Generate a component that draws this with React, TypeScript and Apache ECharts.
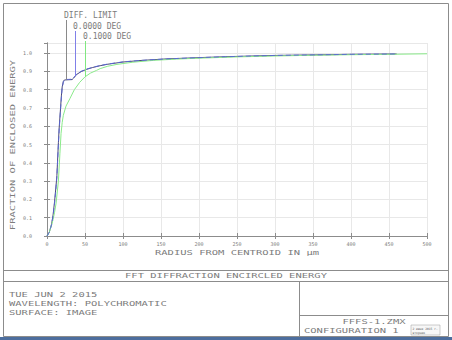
import React, { useEffect, useRef } from "react";
import * as echarts from "echarts";

// ---- data ----
const seriesNames = ["DIFF. LIMIT", "0.0000 DEG", "0.1000 DEG"];

const diffRadius = [0, 3, 6, 8, 10, 12, 13, 15, 16, 18, 19, 20, 21.5, 23, 28, 33, 35, 39, 45, 52, 60, 70, 80, 100, 125, 157, 200, 235, 262, 300, 367, 400, 460];
const diffLimit = [0, 0.02, 0.065, 0.115, 0.19, 0.28, 0.33, 0.51, 0.59, 0.71, 0.77, 0.815, 0.845, 0.853, 0.854, 0.855, 0.863, 0.883, 0.899, 0.911, 0.921, 0.931, 0.939, 0.951, 0.96, 0.968, 0.975, 0.98, 0.983, 0.987, 0.991, 0.993, 0.995];

const deg0Radius = [0, 3, 6, 8, 10, 12, 13, 15, 16, 18, 19, 20, 21.5, 23, 28, 33, 35, 39, 45, 52, 60, 70, 80, 100, 125, 157, 200, 235, 262, 300, 367, 400, 460];
const deg0 = [0, 0.02, 0.06, 0.11, 0.18, 0.27, 0.32, 0.5, 0.58, 0.7, 0.76, 0.81, 0.84, 0.855, 0.856, 0.857, 0.865, 0.885, 0.9, 0.912, 0.922, 0.932, 0.94, 0.952, 0.96, 0.968, 0.975, 0.98, 0.983, 0.987, 0.991, 0.993, 0.995];

const deg01Radius = [0, 3, 6, 8, 10, 12, 15, 17, 18.5, 20, 21.5, 25, 30, 36, 43, 50, 57, 65, 70, 80, 92, 113, 140, 170, 200, 250, 300, 350, 400, 450, 500];
const deg01 = [0, 0.02, 0.06, 0.09, 0.13, 0.18, 0.3, 0.45, 0.56, 0.62, 0.66, 0.71, 0.75, 0.8, 0.84, 0.87, 0.89, 0.905, 0.915, 0.928, 0.938, 0.95, 0.96, 0.967, 0.972, 0.979, 0.984, 0.988, 0.991, 0.993, 0.996];

// where each curve label's leader line meets its curve
const labelRadius = [25, 37, 50];
const labelValue = [0.854, 0.878, 0.87];

const xTickInterval = 50;
const yTickInterval = 0.1;

const titleText = "FFT DIFFRACTION ENCIRCLED ENERGY";
const infoLines = ["TUE JUN 2 2015", "WAVELENGTH: POLYCHROMATIC", "SURFACE: IMAGE"];
const fileLines = ["FFFS-1.ZMX", "CONFIGURATION 1"];
const xAxisTitle = "RADIUS FROM CENTROID IN \u00b5m";
const yAxisTitle = "FRACTION OF ENCLOSED ENERGY";

const FONT = "'DejaVu Sans Mono', monospace";
const TXT = "#7c7c7c";
const FRAME = "#8c8c8c";

const pairs = (xs: number[], ys: number[]) => xs.map((x, i) => [x, ys[i]]);

export default function App() {
  const ref = useRef<HTMLDivElement>(null);
  useEffect(() => {
    if (!ref.current) return;
    const chart = echarts.init(ref.current, undefined, { renderer: "svg" });
    const inside = { show: true, inside: true, length: 3, lineStyle: { color: FRAME } };
    const lineCols = ["#8a8a8a", "#8080e8", "#80e880"];
    const option: any = {
      animation: false,
      backgroundColor: "#ffffff",
      grid: { left: 47, top: 43, width: 380, height: 193, containLabel: false },
      xAxis: [
        {
          type: "value", min: 0, max: 500, interval: xTickInterval, position: "bottom",
          axisLine: { show: true, lineStyle: { color: FRAME } },
          axisTick: inside,
          axisLabel: { color: TXT, fontFamily: FONT, fontSize: 5, margin: 5 },
          splitLine: { show: true, lineStyle: { color: "#e8e8e8", width: 1 } },
        },
        {
          type: "value", min: 0, max: 500, interval: xTickInterval, position: "top",
          axisLine: { show: true, lineStyle: { color: FRAME } },
          axisTick: inside, axisLabel: { show: false }, splitLine: { show: false },
        },
      ],
      yAxis: [
        {
          type: "value", min: 0, max: 1.055, interval: yTickInterval, position: "left",
          axisLine: { show: true, lineStyle: { color: FRAME } },
          axisTick: inside,
          axisLabel: {
            color: TXT, fontFamily: FONT, fontSize: 5, margin: 15, showMaxLabel: false,
            padding: [0, 0, 8, 0],
            formatter: (v: number) => v.toFixed(1),
          },
          splitLine: { show: true, lineStyle: { color: "#e8e8e8", width: 1 } },
        },
        {
          type: "value", min: 0, max: 1.055, interval: yTickInterval, position: "right",
          axisLine: { show: true, lineStyle: { color: FRAME } },
          axisTick: inside, axisLabel: { show: false }, splitLine: { show: false },
        },
      ],
      series: [
        {
          name: seriesNames[0], type: "line", data: pairs(diffRadius, diffLimit), showSymbol: false,
          lineStyle: { color: "#34346a", width: 0.9 }, z: 2,
        },
        {
          name: seriesNames[2], type: "line", data: pairs(deg01Radius, deg01), showSymbol: false,
          lineStyle: { color: "#8aea8a", width: 1 }, z: 3,
        },
        {
          name: seriesNames[1], type: "line", data: pairs(deg0Radius, deg0), showSymbol: false,
          lineStyle: { color: "#5a68d8", width: 0.9, type: [5, 3] }, z: 4,
        },
      ],
    };
    chart.setOption(option);

    const txt = (text: string, x: number, y: number, extra: any = {}) => ({
      type: "text", x, y, scaleX: extra.scaleX ?? 1.5, rotation: extra.rotation ?? 0,
      style: {
        text, fill: extra.fill ?? TXT, font: `${extra.size ?? 7}px ${FONT}`,
        align: extra.align ?? "left", verticalAlign: "middle",
      },
    });

    const g: any[] = [];
    // outer frame and footer boxes
    g.push({ type: "rect", shape: { x: 3.5, y: 3.5, width: 445, height: 333 }, style: { fill: "none", stroke: FRAME, lineWidth: 1 } });
    g.push({ type: "line", shape: { x1: 3.5, y1: 270.5, x2: 448.5, y2: 270.5 }, style: { stroke: FRAME } });
    g.push({ type: "line", shape: { x1: 3.5, y1: 281.5, x2: 448.5, y2: 281.5 }, style: { stroke: FRAME } });
    g.push({ type: "line", shape: { x1: 299.5, y1: 281.5, x2: 299.5, y2: 336.5 }, style: { stroke: FRAME } });
    g.push({ type: "line", shape: { x1: 299.5, y1: 315.5, x2: 448.5, y2: 315.5 }, style: { stroke: FRAME } });
    g.push(txt(titleText, 226, 276, { align: "center" }));
    infoLines.forEach((t, i) => g.push(txt(t, 9, 295 + i * 9)));
    g.push(txt(fileLines[0], 374, 322, { align: "center" }));
    g.push(txt(fileLines[1], 304, 331));
    // axis titles
    g.push(txt(xAxisTitle, 237, 253, { align: "center" }));
    g.push(txt(yAxisTitle, 13, 145, { align: "center", rotation: Math.PI / 2 }));
    // curve labels with leader lines
    const textY = [15, 26, 36];
    const lineTop = [20, 31, 41];
    seriesNames.forEach((name, i) => {
      const p = chart.convertToPixel({ gridIndex: 0 }, [labelRadius[i], labelValue[i]]) as number[];
      const x = Math.round(p[0]) + 0.5;
      g.push({ type: "line", shape: { x1: x, y1: lineTop[i], x2: x, y2: p[1] }, style: { stroke: lineCols[i], lineWidth: 1 }, z: 10 });
      g.push(txt(name, x - 2.5, textY[i], { size: 8, scaleX: 1 }));
    });
    // desktop tooltip artefact and taskbar edge
    g.push({ type: "rect", shape: { x: 411, y: 325, width: 29, height: 10 }, style: { fill: "#f7f7f7", stroke: "#9a9a9a", lineWidth: 0.5 } });
    g.push({ type: "text", x: 412.5, y: 329, style: { text: "2 июня 2015 г.", fill: "#555", font: `3px ${FONT}`, verticalAlign: "middle" } });
    g.push({ type: "text", x: 412.5, y: 332.5, style: { text: "вторник", fill: "#555", font: `3px ${FONT}`, verticalAlign: "middle" } });
    g.push({ type: "rect", shape: { x: 0, y: 337, width: 452, height: 3 }, style: { fill: "#4d6e9e" } });

    chart.setOption({ graphic: g });
    return () => chart.dispose();
  }, []);
  return (
    <div
      ref={ref}
      style={{ position: "fixed", left: 0, top: 0, width: 452, height: 340, background: "#fff" }}
    />
  );
}
